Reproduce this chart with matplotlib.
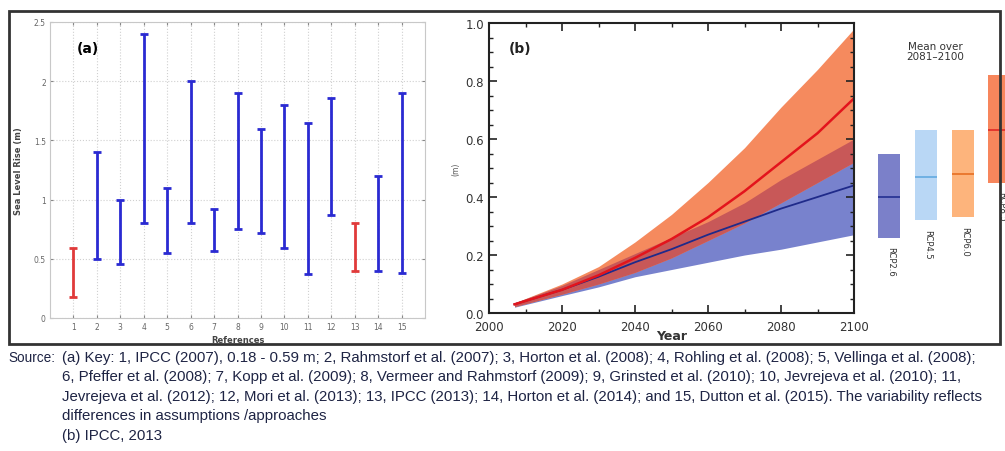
import numpy as np
import matplotlib.pyplot as plt
from matplotlib.patches import Rectangle
from matplotlib.ticker import MultipleLocator

# panel (a): projected sea level rise ranges by reference
refs = [1, 2, 3, 4, 5, 6, 7, 8, 9, 10, 11, 12, 13, 14, 15]
slr_low = [0.18, 0.50, 0.46, 0.80, 0.55, 0.80, 0.57, 0.75, 0.72, 0.59, 0.37, 0.87, 0.40, 0.40, 0.38]
slr_high = [0.59, 1.40, 1.00, 2.40, 1.10, 2.00, 0.92, 1.90, 1.60, 1.80, 1.65, 1.86, 0.80, 1.20, 1.90]
ipcc_refs = [1, 13]

# panel (b): IPCC AR5 projections
years = [2007, 2020, 2030, 2040, 2050, 2060, 2070, 2080, 2090, 2100]
rcp85_mean = [0.03, 0.08, 0.13, 0.19, 0.255, 0.33, 0.42, 0.52, 0.62, 0.74]
rcp85_high = [0.035, 0.10, 0.16, 0.245, 0.34, 0.45, 0.57, 0.71, 0.84, 0.98]
rcp85_low = [0.022, 0.065, 0.10, 0.14, 0.19, 0.25, 0.31, 0.38, 0.45, 0.52]
rcp26_mean = [0.03, 0.08, 0.125, 0.175, 0.22, 0.27, 0.315, 0.36, 0.40, 0.44]
rcp26_high = [0.035, 0.095, 0.15, 0.205, 0.26, 0.315, 0.38, 0.46, 0.53, 0.60]
rcp26_low = [0.02, 0.06, 0.09, 0.125, 0.15, 0.175, 0.20, 0.22, 0.245, 0.27]

# mean over 2081-2100
scen = ['RCP2.6', 'RCP4.5', 'RCP6.0', 'RCP8.5']
scen_low = [0.26, 0.32, 0.33, 0.45]
scen_high = [0.55, 0.63, 0.63, 0.82]
scen_mean = [0.40, 0.47, 0.48, 0.63]
scen_fill = ['#7b80c9', '#b9d7f5', '#fdb47c', '#f7865c']
scen_line = ['#2a3596', '#6aaee2', '#e8742a', '#e2302a']

caption = [
    "(a) Key: 1, IPCC (2007), 0.18 - 0.59 m; 2, Rahmstorf et al. (2007); 3, Horton et al. (2008); 4, Rohling et al. (2008); 5, Vellinga et al. (2008);",
    "6, Pfeffer et al. (2008); 7, Kopp et al. (2009); 8, Vermeer and Rahmstorf (2009); 9, Grinsted et al. (2010); 10, Jevrejeva et al. (2010); 11,",
    "Jevrejeva et al. (2012); 12, Mori et al. (2013); 13, IPCC (2013); 14, Horton et al. (2014); and 15, Dutton et al. (2015). The variability reflects",
    "differences in assumptions /approaches",
    "(b) IPCC, 2013",
]

W, H = 1005, 452
fig = plt.figure(figsize=(W / 100, H / 100), dpi=100)

def box(l, t, r, b):
    return [l / W, 1 - b / H, (r - l) / W, (b - t) / H]

# ---- panel (a)
ax1 = fig.add_axes(box(50, 23, 425, 319))
refs_a = np.array(refs)
lo = np.array(slr_low)
hi = np.array(slr_high)
mid = (lo + hi) / 2
red = np.isin(refs_a, ipcc_refs)
for mask, c in [(~red, '#2a2ad2'), (red, '#e03a3a')]:
    ax1.errorbar(refs_a[mask], mid[mask], yerr=[mid[mask] - lo[mask], hi[mask] - mid[mask]],
                 fmt='none', ecolor=c, elinewidth=2, capsize=3, capthick=2)
ax1.set_xlim(0, 16)
ax1.set_ylim(0, 2.5)
ax1.set_xticks(refs)
ax1.set_yticks([0, 0.5, 1, 1.5, 2, 2.5])
ax1.set_yticklabels(['0', '0.5', '1', '1.5', '2', '2.5'])
ax1.grid(True, ls=':', color='#d0d0d0', lw=0.8)
ax1.tick_params(labelsize=5.5, labelcolor='#666', color='#888', direction='in',
                length=2.5, top=True, right=True, pad=3)
for s in ax1.spines.values():
    s.set_color('#c8c8c8')
ax1.set_ylabel('Sea Level Rise (m)', fontsize=6, fontweight='bold', color='#444', labelpad=8)
ax1.set_xlabel('References', fontsize=6, fontweight='bold', color='#444', labelpad=3)
ax1.text(0.07, 0.9, '(a)', transform=ax1.transAxes, fontsize=10, fontweight='bold')

# ---- panel (b)
ax2 = fig.add_axes(box(489, 24, 854, 314))
yrs = np.array(years)
r_lo, r_hi = np.array(rcp85_low), np.array(rcp85_high)
b_lo, b_hi = np.array(rcp26_low), np.array(rcp26_high)
ax2.fill_between(yrs, b_lo, b_hi, color='#7882cd', lw=0)
ax2.fill_between(yrs, r_lo, r_hi, color='#f58a5e', lw=0)
ov_lo = np.maximum(r_lo, b_lo)
ov_hi = np.minimum(r_hi, b_hi)
ax2.fill_between(yrs, ov_lo, ov_hi, where=ov_hi > ov_lo, color='#c85858', lw=0)
ax2.plot(yrs, rcp26_mean, color='#1f2a8a', lw=1.3)
ax2.plot(yrs, rcp85_mean, color='#e3141c', lw=1.8)
ax2.set_xlim(2000, 2100)
ax2.set_ylim(0, 1.0)
ax2.xaxis.set_major_locator(MultipleLocator(20))
ax2.xaxis.set_minor_locator(MultipleLocator(10))
ax2.yaxis.set_major_locator(MultipleLocator(0.2))
ax2.yaxis.set_minor_locator(MultipleLocator(0.05))
ax2.set_yticklabels([f'{v:.1f}' for v in ax2.get_yticks()])
ax2.tick_params(which='both', direction='in', top=True, right=True, color='#222')
ax2.tick_params(which='major', length=6, width=1.2, labelsize=8.5, labelcolor='#333')
ax2.tick_params(axis='x', which='major', pad=5)
ax2.tick_params(which='minor', length=3, width=1)
for s in ax2.spines.values():
    s.set_linewidth(1.5)
    s.set_color('#222')
ax2.set_xlabel('Year', fontsize=9, fontweight='bold', color='#333', labelpad=-3)
ax2.set_ylabel('(m)', fontsize=5.5, color='#555', labelpad=4)
ax2.text(0.055, 0.9, '(b)', transform=ax2.transAxes, fontsize=10, fontweight='bold', color='#222')

# ---- mean over 2081-2100 bars
ax3 = fig.add_axes(box(870, 24, 1015, 314), sharey=ax2)
idx = np.arange(len(scen))
s_lo, s_hi = np.array(scen_low), np.array(scen_high)
ax3.bar(idx, s_hi - s_lo, bottom=s_lo, width=0.6, color=scen_fill, lw=0)
ax3.hlines(scen_mean, idx - 0.3, idx + 0.3, colors=scen_line, lw=1.3)
for i, name in enumerate(scen):
    ax3.text(i + 0.05, s_lo[i] - 0.03, name, rotation=270, ha='center', va='top',
             fontsize=6, color='#333')
ax3.set_xlim(-0.516, 3.424)
ax3.axis('off')
fig.text(935 / W, 1 - 52 / H, 'Mean over\n2081\u20132100', ha='center', va='center',
         multialignment='center', fontsize=7.5, color='#333', linespacing=1.1)

# outer frame around the two panels
fig.add_artist(Rectangle((9 / W, 1 - 345 / H), (1000 - 9) / W, (345 - 12) / H,
                         transform=fig.transFigure, fill=False, lw=2, ec='#333'))

# source caption
cap_font = ['Liberation Sans Narrow', 'Liberation Sans', 'DejaVu Sans']
cap_col = '#1e2444'
fig.text(8 / W, 1 - 358 / H, 'Source:', ha='left', va='center', fontsize=9.8,
         family=cap_font, color=cap_col)
for k, line in enumerate(caption):
    fig.text(62 / W, 1 - (358 + 19.5 * k) / H, line, ha='left', va='center', fontsize=10.8,
             family=cap_font, color=cap_col)

fig.savefig('out.png', dpi=100)
